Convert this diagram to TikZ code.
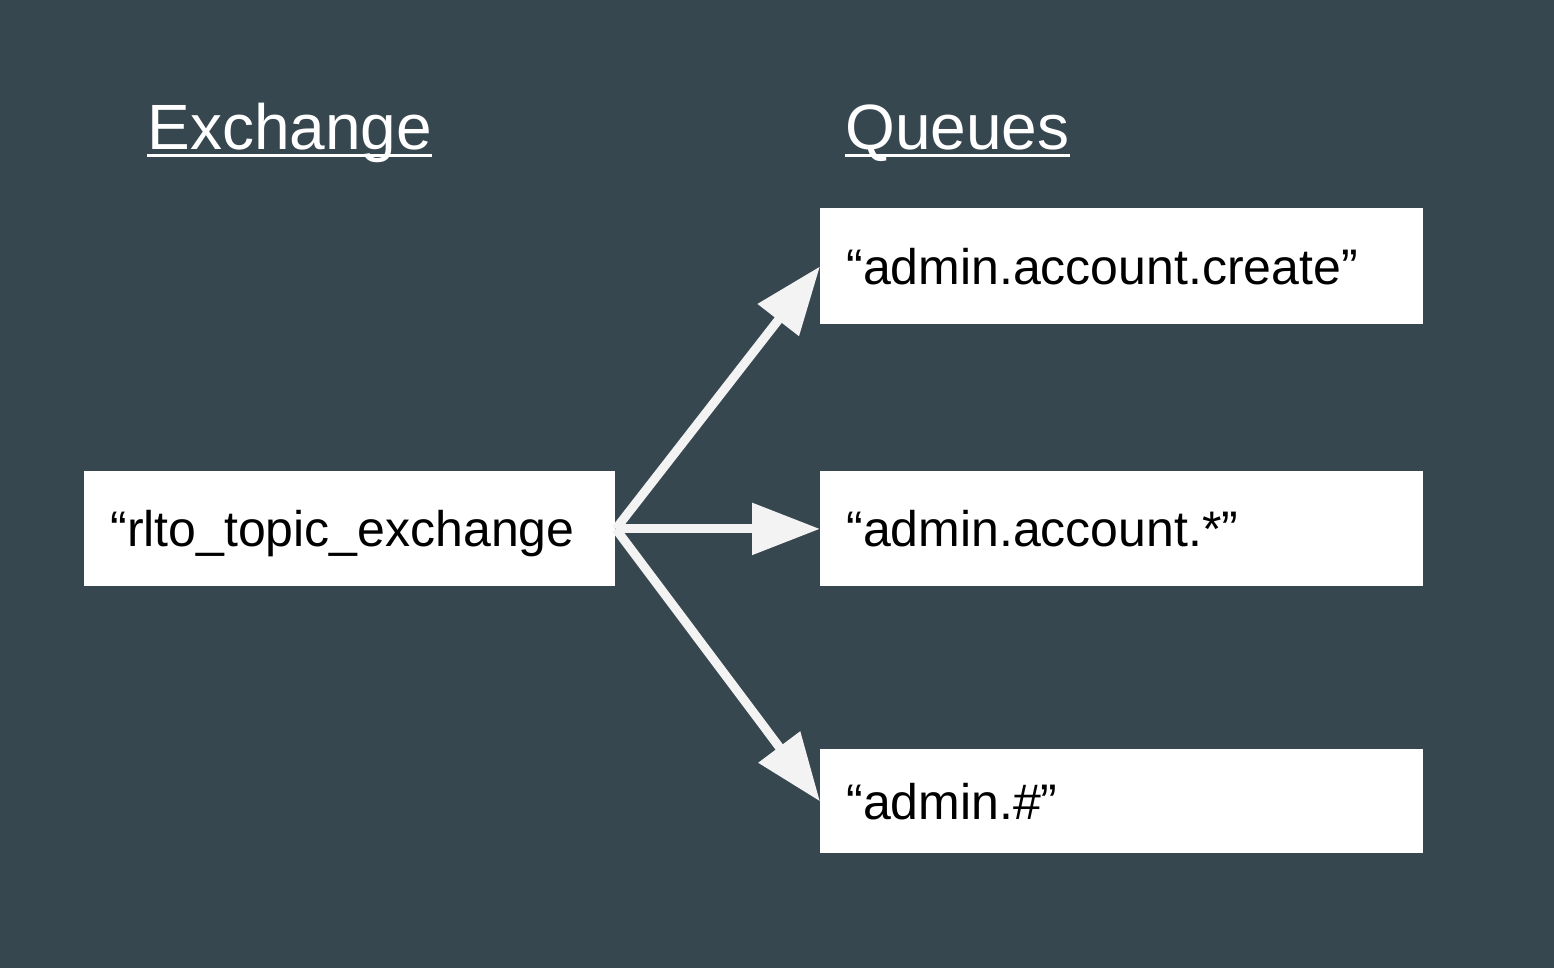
\documentclass[tikz,border=0pt]{standalone}
\usepackage{fontspec}
\setmainfont{Liberation Sans}
\usetikzlibrary{arrows.meta}
\definecolor{bgc}{HTML}{37474F}
\definecolor{arrc}{HTML}{F3F3F3}
\begin{document}
\begin{tikzpicture}[x=0.5pt,y=-0.5pt,
  box/.style={draw=none,fill=white,minimum height=#1,inner xsep=14pt,inner ysep=0pt,
    font=\fontsize{25}{30}\selectfont,text height=18pt,text depth=0pt,align=left,anchor=north west},
  title/.style={text=white,font=\fontsize{32}{38}\selectfont,inner sep=0pt,anchor=base west},
  arr/.style={draw=arrc,line width=4.5pt,-{Triangle[length=34pt,width=25pt]}}]
\fill[bgc] (0,0) rectangle (1554,968);
\useasboundingbox (0,0) rectangle (1554,968);
\node[title] (tex) at (147,150) {Exchange};
\node[title] (tq) at (845,150) {Queues};
\draw[white,line width=1.5pt] ([yshift=-3pt]tex.base west) -- ([yshift=-3pt]tex.base east);
\draw[white,line width=1.5pt] ([yshift=-3pt]tq.base west) -- ([yshift=-3pt]tq.base east);
\node[box=57.5pt,minimum width=265.5pt,text width=239.5pt,inner xsep=13pt] (ex) at (84,471) {“rlto\_topic\_exchange};
\node[box=58pt,minimum width=301.5pt,text width=275.5pt,inner xsep=13pt] (q1) at (820,208) {“admin.account.create”};
\node[box=57.5pt,minimum width=301.5pt,text width=275.5pt,inner xsep=13pt] (q2) at (820,471) {“admin.account.*”};
\node[box=52pt,minimum width=301.5pt,text width=275.5pt,inner xsep=13pt] (q3) at (820,749) {“admin.\#”};
\draw[arr] (ex.east) -- (q1.west);
\draw[arr] (ex.east) -- (q2.west);
\draw[arr] (ex.east) -- (q3.west);
\end{tikzpicture}
\end{document}
